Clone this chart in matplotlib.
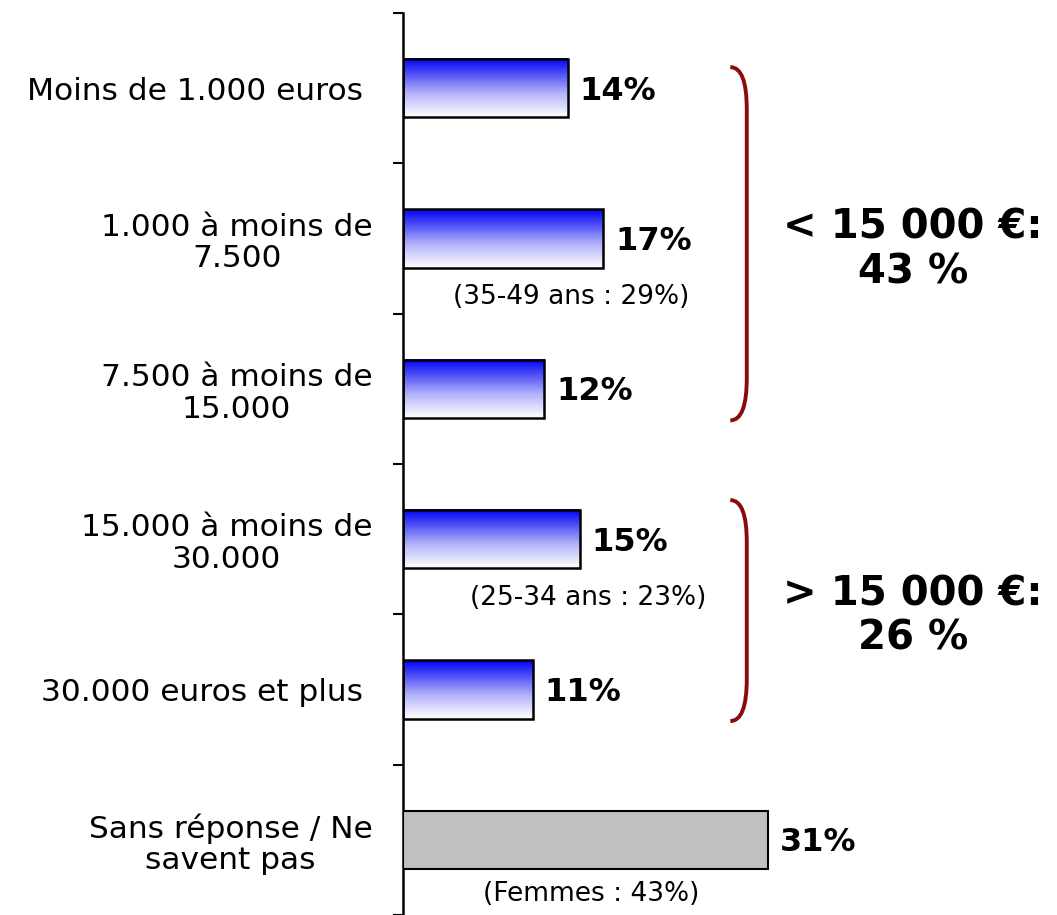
import numpy as np
import matplotlib.pyplot as plt
from matplotlib.colors import LinearSegmentedColormap
from matplotlib.path import Path
from matplotlib.patches import PathPatch

categories = ['Moins de 1.000 euros ', '1.000 à moins de\n7.500', '7.500 à moins de\n15.000',
              '15.000 à moins de\n30.000', '30.000 euros et plus ', 'Sans réponse / Ne\nsavent pas']
values = [14, 17, 12, 15, 11, 31]
notes = ['(35-49 ans : 29%)', '(25-34 ans : 23%)', '(Femmes : 43%)']
note_pos = [(14.3, 1.39), (15.7, 3.39), (16.0, 5.36)]
groups = ['< 15 000 €:\n43 %', '> 15 000 €:\n26 %']
group_span = [(-0.14, 2.21), (2.74, 4.21)]

fig = plt.figure(figsize=(10.57, 9.15), dpi=100)
ax = fig.add_axes([403 / 1057, 0, 1 - 403 / 1057, 1 - 13 / 915])
ax.set_xlim(0, 55.55)
ax.set_ylim(5.495, -0.5)

blue = LinearSegmentedColormap.from_list(
    'bw', [(0, '#0000f5'), (0.3, '#5a5af8'), (0.6, '#b4b4fa'), (1, '#ffffff')])
grad = np.linspace(0, 1, 256).reshape(-1, 1)
h = 0.39
y = np.arange(len(values))
for i, v in enumerate(values):
    if i < 5:
        ax.imshow(grad, cmap=blue, extent=[0, v, i + h / 2, i - h / 2], origin='upper',
                  aspect='auto', zorder=2)
        ax.barh(i, v, height=h, facecolor='none', edgecolor='black', linewidth=1.8, zorder=3)
    else:
        ax.barh(i, v, height=h, color='#c0c0c0', edgecolor='black', linewidth=1.5, zorder=3)
    ax.text(v + 1.0, i + 0.02, f'{v}%', va='center', ha='left', fontsize=23, fontweight='bold')

for txt, (xx, yy) in zip(notes, note_pos):
    ax.text(xx, yy, txt, ha='center', va='center', fontsize=19)

# accolades
for (y0, y1), txt in zip(group_span, groups):
    x0, x1 = 27.8, 29.2
    c = 0.28
    codes = [Path.MOVETO, Path.CURVE3, Path.CURVE3, Path.LINETO,
             Path.LINETO, Path.CURVE3, Path.CURVE3, Path.LINETO]
    verts = [(x0, y0), (x1, y0), (x1, y0 + c), (x1, y0 + c),
             (x1, y1 - c), (x1, y1), (x0, y1), (x0, y1)]
    ax.add_patch(PathPatch(Path(verts, codes), fill=False, edgecolor='#8b0a0a', linewidth=2.8))
    ax.text(43.3, (y0 + y1) / 2 + 0.04, txt, ha='center', va='center', fontsize=29,
            fontweight='bold', linespacing=1.15)

ax.set_yticks(y)
ax.set_yticklabels(categories, fontsize=22.5, multialignment='center', linespacing=1.12)
ax.set_yticks(np.arange(-0.5, 6, 1), minor=True)
ax.tick_params(axis='y', which='major', length=0, pad=22)
ax.tick_params(axis='y', which='minor', length=7, width=1.5)
ax.set_xticks([])
for s in ['top', 'right', 'bottom']:
    ax.spines[s].set_visible(False)
ax.spines['left'].set_linewidth(1.8)
ax.patch.set_alpha(0)

fig.savefig('out.png', dpi=100)
